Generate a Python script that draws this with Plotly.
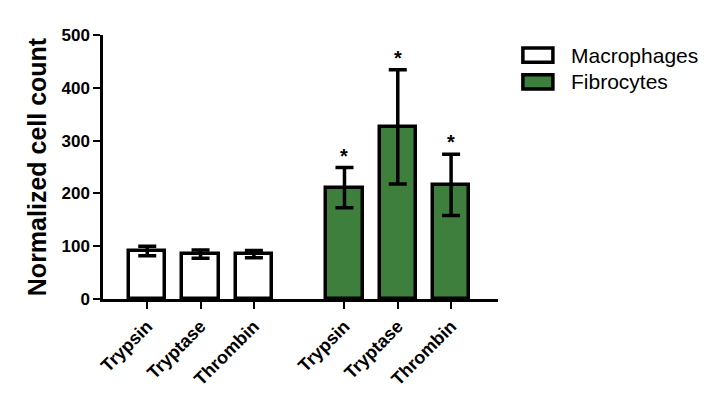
import plotly.graph_objects as go

categories = ["Trypsin", "Tryptase", "Thrombin"]
macro_mean = [91, 85, 85]
macro_err = [9, 8, 7]
fibro_mean = [211, 326, 216]
fibro_err = [38, 108, 58]
fibro_sig = ["*", "*", "*"]
y_ticks = [0, 100, 200, 300, 400, 500]

GREEN = "#3e7f3e"
FONT = "Arial, Liberation Sans, sans-serif"

n = len(categories)
gap = 1.7
x_macro = [i for i in range(n)]
x_fibro = [i + n - 1 + gap for i in range(n)]

fig = go.Figure()
fig.add_trace(go.Bar(
    x=x_macro, y=macro_mean, width=0.68, name="Macrophages",
    marker=dict(color="white", line=dict(color="black", width=3.5)),
    error_y=dict(type="data", array=macro_err, color="black", thickness=3.5, width=9),
    showlegend=False,
))
fig.add_trace(go.Bar(
    x=x_fibro, y=fibro_mean, width=0.68, name="Fibrocytes",
    marker=dict(color=GREEN, line=dict(color="black", width=3.5)),
    error_y=dict(type="data", array=fibro_err, color="black", thickness=3.5, width=9),
    showlegend=False,
))

for xv, m, e, s in zip(x_fibro, fibro_mean, fibro_err, fibro_sig):
    fig.add_annotation(x=xv, y=m + e, text=s, showarrow=False, yshift=12,
                       font=dict(family=FONT, size=20, color="black", weight="bold"))

# manual legend
legend_items = [("Macrophages", "white"), ("Fibrocytes", GREEN)]
for k, (lab, col) in enumerate(legend_items):
    yc = 0.924 - k * 0.102
    fig.add_shape(type="rect", xref="paper", yref="paper",
                  x0=1.063, x1=1.139, y0=yc - 0.027, y1=yc + 0.027,
                  line=dict(color="black", width=3.5), fillcolor=col)
    fig.add_annotation(xref="paper", yref="paper", x=1.18, y=yc, text=lab,
                       showarrow=False, xanchor="left", yanchor="middle",
                       font=dict(family=FONT, size=21, color="black"))

fig.update_layout(
    width=710, height=398,
    margin=dict(l=95, r=220, t=27, b=107, autoexpand=False),
    paper_bgcolor="white", plot_bgcolor="white",
    font=dict(family=FONT, color="black"),
    bargap=0,
    xaxis=dict(
        range=[-0.83, x_fibro[-1] + 0.88],
        tickmode="array", tickvals=x_macro + x_fibro, ticktext=categories + categories,
        tickangle=-45, ticks="outside", ticklen=7, tickwidth=2, tickcolor="black",
        showline=True, linecolor="black", linewidth=2.5, showgrid=False, zeroline=False,
        tickfont=dict(family=FONT, size=18, color="black", weight="bold"),
    ),
    yaxis=dict(
        range=[0, 500], tickmode="array", tickvals=y_ticks,
        ticks="outside", ticklen=7, tickwidth=2, tickcolor="black",
        showline=True, linecolor="black", linewidth=2.5, showgrid=False, zeroline=False,
        tickfont=dict(family=FONT, size=17, color="black", weight="bold"),
        title=dict(text="Normalized cell count", standoff=8,
                   font=dict(family=FONT, size=25, color="black", weight="bold")),
    ),
)

fig.write_html("out.html")
